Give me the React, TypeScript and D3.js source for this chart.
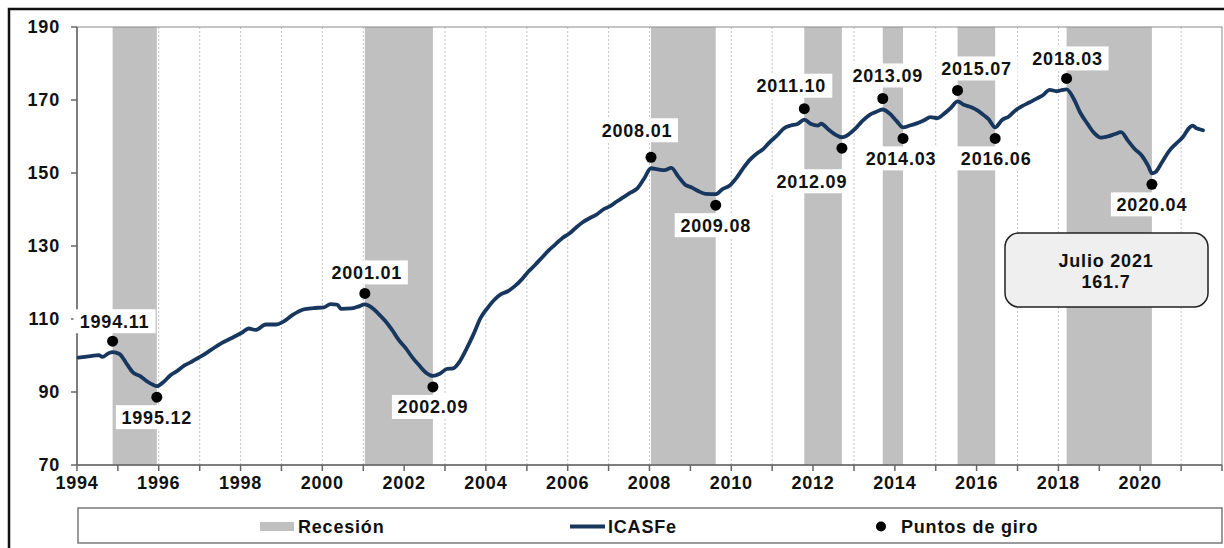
import React from 'react';
import * as d3 from 'd3';

// ICASFe monthly index
const months = [
  '1994.01', '1994.03', '1994.05', '1994.07', '1994.08', '1994.10', '1994.11',
  '1995.01', '1995.03', '1995.05', '1995.07', '1995.09', '1995.11', '1995.12',
  '1996.02', '1996.04', '1996.06', '1996.08', '1996.10',
  '1997.01', '1997.04', '1997.07', '1997.10',
  '1998.01', '1998.03', '1998.05', '1998.08', '1998.11',
  '1999.01', '1999.04', '1999.07', '1999.10',
  '2000.01', '2000.03', '2000.05', '2000.06', '2000.09', '2000.11',
  '2001.01', '2001.03', '2001.05', '2001.07', '2001.09', '2001.11',
  '2002.01', '2002.03', '2002.05', '2002.07', '2002.09', '2002.11',
  '2003.01', '2003.03', '2003.05', '2003.07', '2003.09', '2003.11',
  '2004.01', '2004.03', '2004.05', '2004.07', '2004.09', '2004.11',
  '2005.01', '2005.03', '2005.05', '2005.07', '2005.09', '2005.11',
  '2006.01', '2006.03', '2006.05', '2006.07', '2006.09', '2006.11',
  '2007.01', '2007.03', '2007.05', '2007.07', '2007.09', '2007.11',
  '2008.01', '2008.03', '2008.05', '2008.07', '2008.09', '2008.11',
  '2009.01', '2009.03', '2009.05', '2009.08', '2009.10', '2009.12',
  '2010.02', '2010.04', '2010.06', '2010.08', '2010.10', '2010.12',
  '2011.02', '2011.04', '2011.06', '2011.08', '2011.10', '2011.12',
  '2012.02', '2012.03', '2012.05', '2012.07', '2012.09', '2012.11',
  '2013.01', '2013.03', '2013.05', '2013.07', '2013.09', '2013.11',
  '2014.01', '2014.03', '2014.05', '2014.07', '2014.09', '2014.11',
  '2015.01', '2015.03', '2015.05', '2015.07', '2015.09', '2015.11',
  '2016.01', '2016.03', '2016.04', '2016.06', '2016.08', '2016.10', '2016.12',
  '2017.02', '2017.04', '2017.06', '2017.08', '2017.10', '2017.12',
  '2018.01', '2018.03', '2018.05', '2018.07', '2018.09', '2018.11',
  '2019.01', '2019.03', '2019.05', '2019.07', '2019.09', '2019.11',
  '2020.01', '2020.03', '2020.04', '2020.05', '2020.07', '2020.09', '2020.11',
  '2021.01', '2021.03', '2021.04', '2021.05', '2021.06', '2021.07',
];

const icasfe = [
  99.4, 99.6, 99.9, 100.1, 99.6, 100.7, 100.9,
  100.4, 98.0, 95.4, 94.4, 93.0, 91.9, 91.6,
  92.8, 94.6, 95.8, 97.2, 98.2,
  99.8, 101.6, 103.4, 104.8,
  106.3, 107.4, 107.0, 108.5, 108.5,
  109.2, 111.2, 112.6, 113.0,
  113.2, 114.1, 113.9, 112.8, 112.9, 113.4,
  114.0, 113.2, 111.5, 109.5, 107.0, 104.2,
  102.0, 99.5, 97.3, 95.3, 94.4, 95.0,
  96.3, 96.5, 98.5, 102.0, 106.0, 110.3,
  113.0, 115.2, 116.8, 117.6, 119.0, 120.8,
  123.0, 124.8, 126.8, 128.8, 130.5, 132.2,
  133.4, 135.0, 136.5, 137.6, 138.6, 140.0,
  140.9, 142.2, 143.4, 144.6, 145.8, 148.5,
  151.3, 151.0, 150.8, 151.4, 149.0, 146.8,
  146.0, 145.0, 144.3, 144.2, 145.6, 146.5,
  148.6, 151.2, 153.6, 155.3, 156.6, 158.6,
  160.3, 162.2, 163.0, 163.4, 164.6, 163.4,
  163.0, 163.5, 162.0, 160.6, 159.8, 160.6,
  162.2, 164.2, 165.8, 166.7, 167.4, 166.3,
  164.3, 162.5, 163.0, 163.6, 164.4, 165.3,
  165.0, 166.2, 167.8, 169.6, 168.6, 168.0,
  167.0, 165.6, 164.8, 162.5, 164.5, 165.5, 167.2,
  168.4, 169.3, 170.3, 171.3, 172.8, 172.4,
  172.6, 172.9, 170.5, 166.5, 163.6, 161.0,
  159.7, 160.0, 160.6, 161.2, 158.8, 156.5,
  154.8, 151.8, 149.9, 150.2, 153.0, 156.0, 158.0,
  159.8, 162.4, 163.0, 162.3, 162.0, 161.7,
];

// recession periods (peak -> trough)
const recessionStart = ['1994.11', '2001.01', '2008.01', '2011.10', '2013.09', '2015.07', '2018.03'];
const recessionEnd = ['1995.12', '2002.09', '2009.08', '2012.09', '2014.03', '2016.06', '2020.04'];

const turningPoints = [
  '1994.11', '1995.12', '2001.01', '2002.09', '2008.01', '2009.08', '2011.10',
  '2012.09', '2013.09', '2014.03', '2015.07', '2016.06', '2018.03', '2020.04',
];
const turningKind = ['P', 'T', 'P', 'T', 'P', 'T', 'P', 'T', 'P', 'T', 'P', 'T', 'P', 'T'];

const yTicks = [70, 90, 110, 130, 150, 170, 190];

const lastLabel = 'Julio 2021';
const lastValue = '161.7';

// label placement relative to the dot (layout only)
const labelOffsets: [number, number][] = [
  [2, -20], [0, 20], [2, -21], [0, 20], [-14, -27], [0, 20], [-13, -23],
  [-30, 33], [5, -23], [-2, 20], [19, -22], [1, 20], [1, -20], [0, 20],
];

const parseMonth = (s: string) => {
  const [y, m] = s.split('.').map(Number);
  return new Date(y, m - 1, 15);
};

const FONT = "'Liberation Sans', Arial, Helvetica, sans-serif";

const App: React.FC = () => {
  const width = 1224;
  const height = 548;
  const left = 77;
  const right = 1222;
  const top = 27;
  const bottom = 465;

  const x = d3.scaleTime()
    .domain([new Date(1994, 0, 1), new Date(2022, 0, 1)])
    .range([left, right]);
  const y = d3.scaleLinear().domain([70, 190]).range([bottom, top]);

  const series = months.map((m, i) => ({ date: parseMonth(m), value: icasfe[i] }));
  const line = d3.line<{ date: Date; value: number }>()
    .x(d => x(d.date))
    .y(d => y(d.value))
    .curve(d3.curveMonotoneX);

  const years = d3.timeYear.range(new Date(1994, 0, 1), new Date(2022, 0, 2));

  const valueAt = (m: string) => icasfe[months.indexOf(m)];

  const txt = {
    fontFamily: FONT,
    fontWeight: 700,
    fontSize: 18,
    letterSpacing: 0.8,
    fill: '#111',
  } as const;

  return (
    <svg
      width={width}
      height={height}
      style={{ position: 'absolute', left: 0, top: 0, background: '#fff' }}
    >
      {/* outer frame */}
      <rect x={9} y={9} width={1240} height={560} fill="#fff" stroke="#111" strokeWidth={2.5} />

      {/* year gridlines */}
      {years.slice(1, -1).map((d, i) => (
        <line key={i} x1={x(d)} x2={x(d)} y1={top} y2={bottom}
          stroke="#c4c4c4" strokeWidth={1} strokeDasharray="2,2" />
      ))}

      {/* recessions */}
      {recessionStart.map((s, i) => (
        <rect key={s} x={x(parseMonth(s))} y={top}
          width={x(parseMonth(recessionEnd[i])) - x(parseMonth(s))}
          height={bottom - top} fill="#c0c0c0" />
      ))}

      {/* plot border */}
      <rect x={left} y={top} width={right - left} height={bottom - top}
        fill="none" stroke="#8a8a8a" strokeWidth={1} />
      <line x1={left} x2={left} y1={top} y2={bottom} stroke="#666" strokeWidth={1.5} />
      <line x1={left} x2={right} y1={bottom} y2={bottom} stroke="#666" strokeWidth={1.5} />

      {/* y axis */}
      {yTicks.map(t => (
        <g key={t}>
          <line x1={left - 6} x2={left} y1={y(t)} y2={y(t)} stroke="#666" strokeWidth={1.5} />
          <text x={60} y={y(t)} dy="0.36em" textAnchor="end" {...txt}>{t}</text>
        </g>
      ))}

      {/* x axis */}
      {years.map((d, i) => (
        <g key={i}>
          <line x1={x(d)} x2={x(d)} y1={bottom} y2={bottom + 6} stroke="#666" strokeWidth={1.5} />
          {d.getFullYear() % 2 === 0 && d.getFullYear() < 2022 && (
            <text x={x(d)} y={489} textAnchor="middle" {...txt}>{d.getFullYear()}</text>
          )}
        </g>
      ))}

      {/* series */}
      <path d={line(series) || ''} fill="none" stroke="#17375e" strokeWidth={3.8}
        strokeLinejoin="round" strokeLinecap="round" />

      {/* turning points */}
      {turningPoints.map((m, i) => {
        const cx = x(parseMonth(m));
        const cy = y(valueAt(m)) + (turningKind[i] === 'P' ? -11 : 11);
        const [dx, dy] = labelOffsets[i];
        const lx = cx + dx;
        const ly = cy + dy;
        return (
          <g key={m}>
            <circle cx={cx} cy={cy} r={5.5} fill="#000" />
            <rect x={lx - 41} y={ly - 12} width={82} height={24} fill="#fff" />
            <text x={lx} y={ly} dy="0.36em" textAnchor="middle" {...txt}>{m}</text>
          </g>
        );
      })}

      {/* last value box */}
      <rect x={1005} y={233} width={203} height={74} rx={14} ry={14}
        fill="#efefef" stroke="#222" strokeWidth={1.5} />
      <text x={1106} y={267} textAnchor="middle" {...txt}>{lastLabel}</text>
      <text x={1106} y={288} textAnchor="middle" {...txt}>{lastValue}</text>

      {/* legend */}
      <rect x={78} y={508} width={1144} height={35} fill="#fff" stroke="#7a7a7a" strokeWidth={1.5} />
      <rect x={260} y={522} width={34} height={9} fill="#c0c0c0" />
      <text x={298} y={533} {...txt}>Recesión</text>
      <line x1={570} x2={605} y1={526.5} y2={526.5} stroke="#17375e" strokeWidth={4} />
      <text x={608} y={533} {...txt}>ICASFe</text>
      <circle cx={881} cy={526.5} r={5} fill="#000" />
      <text x={901} y={533} {...txt}>Puntos de giro</text>
    </svg>
  );
};

export default App;
